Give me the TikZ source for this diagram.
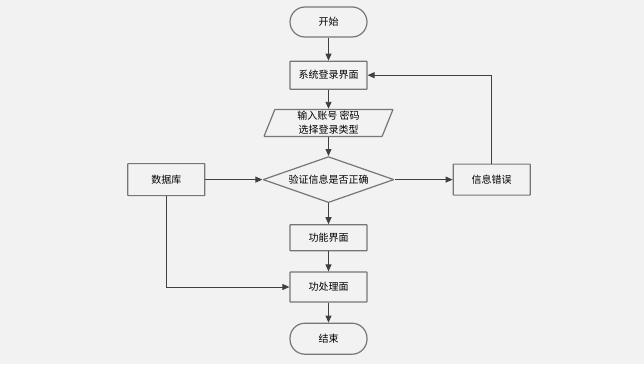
\documentclass[tikz,border=0pt]{standalone}
\usepackage{fontspec}
\newfontfamily\cjk{Noto Sans CJK SC}
\usetikzlibrary{positioning,arrows.meta,shapes.geometric}
\definecolor{PageGrey}{RGB}{242,242,242}
\definecolor{EdgeGrey}{RGB}{118,118,118}
\definecolor{LineGrey}{RGB}{64,64,64}
\tikzset{
  flow/.style={-{Triangle[length=7pt,width=6pt]},draw=LineGrey,line width=0.9pt},
  box/.style={draw=EdgeGrey,fill=PageGrey,line width=1.2pt,rounded corners=0.5pt,
    minimum width=77pt,minimum height=28pt,align=center,inner sep=0pt,
    font=\cjk\fontsize{10}{14}\selectfont},
  termbox/.style={box,rounded corners=15pt,minimum height=30pt},
  iobox/.style={box,trapezium,trapezium left angle=65,trapezium right angle=115,
    trapezium stretches body,minimum width=129pt,minimum height=27pt},
  checkbox/.style={box,diamond,shape aspect=2.87,minimum width=131pt,minimum height=46pt}
}
\begin{document}
\begin{tikzpicture}[x=1pt,y=-1pt,node distance=20pt]
  \useasboundingbox[fill=PageGrey] (0,0) rectangle (644,364);
  % main column
  \node[termbox] (start) at (328.5,22) {开始};
  \node[box,below=23pt of start] (login) {系统登录界面};
  \node[iobox,below=19pt of login] (input) {输入账号 密码\\选择登录类型};
  \node[checkbox,below=19pt of input] (check) {验证信息是否正确};
  \node[box,below=21pt of check,minimum height=26pt] (menu) {功能界面};
  \node[box,below=20pt of menu,minimum height=30pt] (handle) {功处理面};
  \node[termbox,below=20pt of handle,minimum height=31pt] (finish) {结束};
  % side boxes
  \node[box,left=57pt of check,minimum height=32pt] (db) {数据库};
  \node[box,right=58pt of check,minimum height=31pt] (fail) {信息错误};

  \draw[flow] (start) -- (login);
  \draw[flow] (login) -- (input);
  \draw[flow] (input) -- (check);
  \draw[flow] (check) -- (menu);
  \draw[flow] (menu) -- (handle);
  \draw[flow] (handle) -- (finish);
  \draw[flow] (db) -- (check);
  \draw[flow] (check) -- (fail);
  \draw[flow] (fail.north) |- (login.east);
  \draw[flow] (db.south) |- (handle.west);
\end{tikzpicture}
\end{document}
